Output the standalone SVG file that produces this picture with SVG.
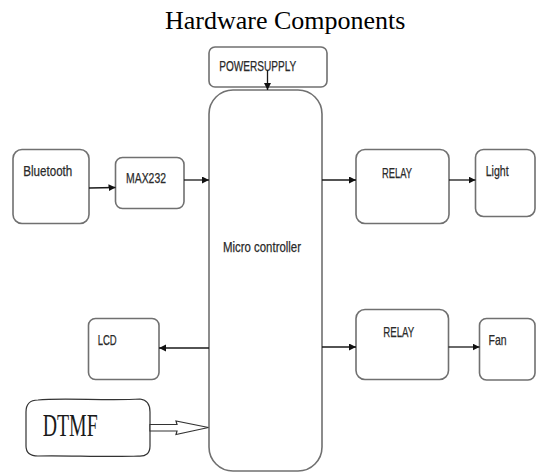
<svg xmlns="http://www.w3.org/2000/svg" width="536" height="473" viewBox="0 0 536 473">
<defs>
<style>
.box{fill:#fff;stroke:#707070;stroke-width:1.6}
.lbl{font-family:"Liberation Sans",Arial,sans-serif;font-size:14.5px;fill:#2a2a2a;stroke:#2a2a2a;stroke-width:0.25}
.conn{stroke:#1a1a1a;stroke-width:1.3;fill:none;marker-end:url(#ah)}
</style>
<marker id="ah" markerUnits="userSpaceOnUse" markerWidth="8" markerHeight="8" refX="7" refY="3.5" orient="auto">
<path d="M0,0 L7,3.5 L0,7 z" fill="#111"/>
</marker>
</defs>
<rect width="536" height="473" fill="#fff"/>
<text x="165" y="29" font-family="Liberation Serif,'Times New Roman',serif" font-size="26" fill="#000">Hardware Components</text>

<g id="power">
<rect class="box" x="209" y="47" width="118" height="40" rx="6"/>
<text class="lbl" x="219.3" y="70.7" textLength="77" lengthAdjust="spacingAndGlyphs">POWERSUPPLY</text>
</g>
<g id="micro">
<rect class="box" x="209" y="90" width="113" height="381" rx="24"/>
<text class="lbl" x="223" y="252" textLength="78" lengthAdjust="spacingAndGlyphs">Micro controller</text>
</g>
<g id="bluetooth">
<rect class="box" x="13" y="149.5" width="76" height="74" rx="9"/>
<text class="lbl" x="23.3" y="175.7" textLength="49" lengthAdjust="spacingAndGlyphs">Bluetooth</text>
</g>
<g id="max232">
<rect class="box" x="115.5" y="157.5" width="68.5" height="51" rx="7"/>
<text class="lbl" x="126" y="182.6" textLength="40" lengthAdjust="spacingAndGlyphs">MAX232</text>
</g>
<g id="relay1">
<rect class="box" x="356" y="149.5" width="93" height="74" rx="9"/>
<text class="lbl" x="382" y="177.5" textLength="30" lengthAdjust="spacingAndGlyphs">RELAY</text>
</g>
<g id="light">
<rect class="box" x="475.5" y="149.5" width="59.5" height="67" rx="8"/>
<text class="lbl" x="485.7" y="176" textLength="23" lengthAdjust="spacingAndGlyphs">Light</text>
</g>
<g id="lcd">
<rect class="box" x="88.5" y="318.5" width="70.5" height="61" rx="7"/>
<text class="lbl" x="97.7" y="345" textLength="19" lengthAdjust="spacingAndGlyphs">LCD</text>
</g>
<g id="relay2">
<rect class="box" x="356" y="309.5" width="92.5" height="70" rx="9"/>
<text class="lbl" x="383.3" y="337.3" textLength="31" lengthAdjust="spacingAndGlyphs">RELAY</text>
</g>
<g id="fan">
<rect class="box" x="479.5" y="318.5" width="55.5" height="61.5" rx="7"/>
<text class="lbl" x="488.5" y="345" textLength="18" lengthAdjust="spacingAndGlyphs">Fan</text>
</g>
<g id="dtmf">
<path d="M38,400 C60,397.5 110,401 140,399 Q150,400 150,412 L150,446 Q150,457 138,456 C110,457.5 60,455 38,456 Q26,456 26,446 L26,412 Q26,400 38,400 Z" fill="#fff" stroke="#333" stroke-width="1.2"/>
<text x="42.7" y="436" font-family="Liberation Serif,'Times New Roman',serif" font-size="31" fill="#1a1a1a" textLength="55" lengthAdjust="spacingAndGlyphs">DTMF</text>
</g>

<g id="connectors">
<line class="conn" x1="267.5" y1="70" x2="267.5" y2="90"/>
<line class="conn" x1="89" y1="188" x2="115.5" y2="187.5"/>
<line class="conn" x1="184" y1="180" x2="209" y2="180"/>
<line class="conn" x1="322" y1="180" x2="356" y2="180"/>
<line class="conn" x1="449" y1="180" x2="475.5" y2="180"/>
<line class="conn" x1="209" y1="348" x2="159" y2="348"/>
<line class="conn" x1="322" y1="347" x2="356" y2="347"/>
<line class="conn" x1="448.5" y1="347" x2="479.5" y2="347"/>
<polygon points="150,424.5 177,424.5 176,421 208.5,427.5 176,434.5 177,431 150,431" fill="#fff" stroke="#333" stroke-width="1.2"/>
</g>
</svg>
